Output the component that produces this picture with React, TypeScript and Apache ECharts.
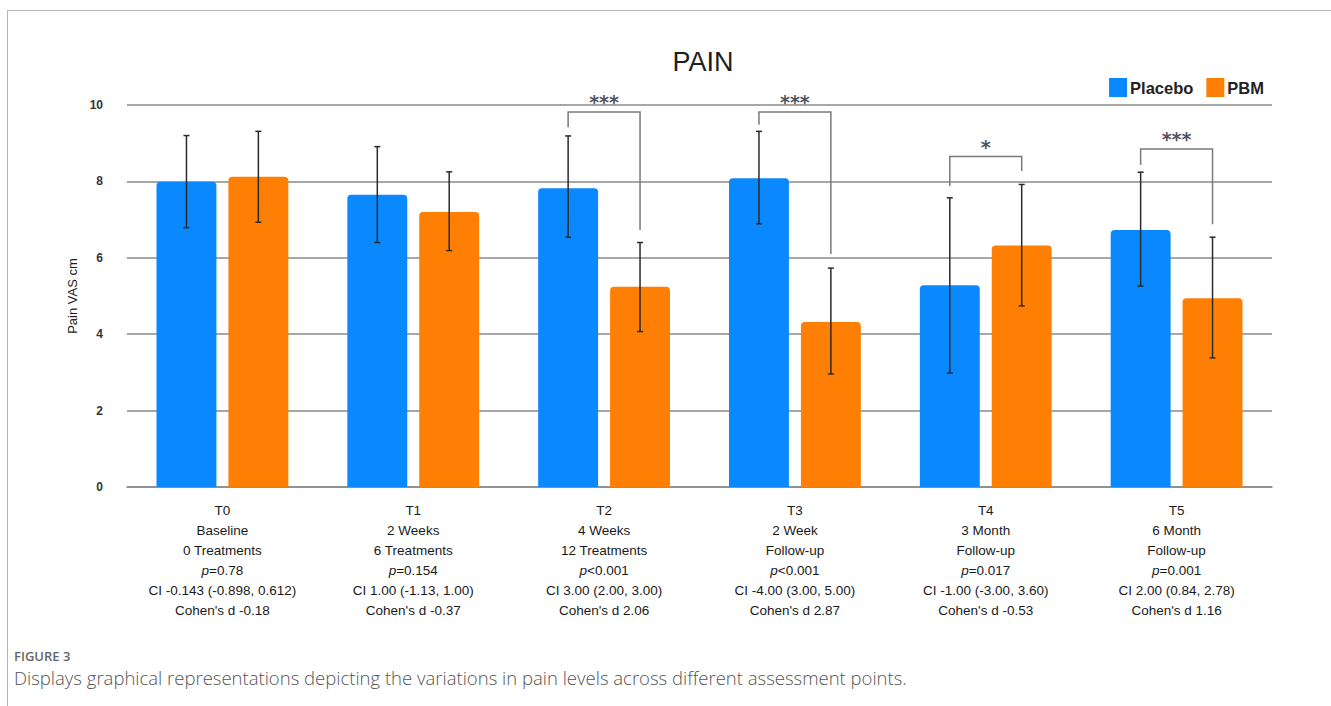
import React, { useEffect, useRef } from "react";
import * as echarts from "echarts";

// Assessment points
const timepoints = ["T0", "T1", "T2", "T3", "T4", "T5"];
const periods = ["Baseline", "2 Weeks", "4 Weeks", "2 Week", "3 Month", "6 Month"];
const treatments = ["0 Treatments", "6 Treatments", "12 Treatments", "Follow-up", "Follow-up", "Follow-up"];
const pValues = ["=0.78", "=0.154", "<0.001", "<0.001", "=0.017", "=0.001"];
const ciValues = [
  "CI -0.143 (-0.898, 0.612)",
  "CI 1.00 (-1.13, 1.00)",
  "CI 3.00 (2.00, 3.00)",
  "CI -4.00 (3.00, 5.00)",
  "CI -1.00 (-3.00, 3.60)",
  "CI 2.00 (0.84, 2.78)",
];
const cohensD = ["-0.18", "-0.37", "2.06", "2.87", "-0.53", "1.16"];

// Mean pain VAS (cm) with error-bar limits
const placebo = [7.99, 7.65, 7.82, 8.08, 5.28, 6.73];
const placeboLow = [6.79, 6.4, 6.54, 6.89, 2.98, 5.26];
const placeboHigh = [9.2, 8.91, 9.19, 9.31, 7.57, 8.24];
const pbm = [8.12, 7.2, 5.24, 4.32, 6.32, 4.94];
const pbmLow = [6.93, 6.19, 4.07, 2.96, 4.74, 3.38];
const pbmHigh = [9.31, 8.25, 6.4, 5.73, 7.92, 6.54];

// Significance brackets: [category, bracket top, left leg end, right leg end]
const brackets = [
  [2, 9.82, 9.42, 6.73],
  [3, 9.82, 9.48, 6.1],
  [4, 8.65, 7.88, 8.27],
  [5, 8.85, 8.43, 6.88],
];
const bracketStars = ["***", "***", "*", "***"];

const BLUE = "#0a89fe";
const ORANGE = "#ff7f05";
const BAR_WIDTH = 0.314; // share of category width
const BAR_GAP = 0.2; // share of bar width
const OFFSET = (BAR_WIDTH * (1 + BAR_GAP)) / 2;

function errorSeries(name: string, low: number[], high: number[], side: number) {
  return {
    type: "custom",
    name,
    z: 5,
    data: low.map((l, i) => [i, l, high[i]]),
    renderItem: (params: any, api: any) => {
      const bandW = api.size([1, 0])[0];
      const cx = api.coord([api.value(0), 0])[0] + side * OFFSET * bandW;
      const yl = api.coord([api.value(0), api.value(1)])[1];
      const yh = api.coord([api.value(0), api.value(2)])[1];
      const st = { stroke: "#2a2a2a", lineWidth: 1.5 };
      return {
        type: "group",
        children: [
          { type: "line", shape: { x1: cx, y1: yl, x2: cx, y2: yh }, style: st },
          { type: "line", shape: { x1: cx - 3, y1: yl, x2: cx + 3, y2: yl }, style: st },
          { type: "line", shape: { x1: cx - 3, y1: yh, x2: cx + 3, y2: yh }, style: st },
        ],
      };
    },
  };
}

const catLabels = timepoints.map(
  (t, i) =>
    `${t}\n${periods[i]}\n${treatments[i]}\n{i|p}${pValues[i]}\n${ciValues[i]}\nCohen's d ${cohensD[i]}`
);

export default function App() {
  const ref = useRef<HTMLDivElement>(null);

  useEffect(() => {
    if (!ref.current) return;
    const chart = echarts.init(ref.current, null, { renderer: "svg" });
    const font = "'Liberation Sans', Arial, Helvetica, sans-serif";
    const captionFont = "'Open Sans', sans-serif";
    chart.setOption({
      animation: false,
      textStyle: { fontFamily: font },
      title: {
        text: "PAIN",
        left: 698,
        textAlign: "center",
        top: 43,
        textStyle: { fontSize: 27, fontWeight: "normal", color: "#1e1e1e", fontFamily: font },
      },
      legend: {
        right: 62,
        top: 73,
        itemWidth: 18,
        itemHeight: 19,
        itemGap: 13,
        icon: "rect",
        data: ["Placebo", "PBM"],
        textStyle: { fontSize: 16.5, color: "#222", fontWeight: "bold", fontFamily: font, padding: [0, 0, 0, -2] },
      },
      grid: { left: 127, right: 59, top: 105, bottom: 219 },
      xAxis: {
        type: "category",
        data: catLabels,
        axisLine: { show: true, lineStyle: { color: "#8a8a8a", width: 1.5 } },
        axisTick: { show: false },
        axisLabel: {
          interval: 0,
          margin: 13,
          fontSize: 13.5,
          lineHeight: 20,
          color: "#1a1a1a",
          fontFamily: font,
          rich: { i: { fontStyle: "italic", fontSize: 13.5, lineHeight: 20, color: "#1a1a1a", fontFamily: font } },
        },
      },
      yAxis: {
        type: "value",
        min: 0,
        max: 10,
        interval: 2,
        name: "Pain VAS cm",
        nameLocation: "middle",
        nameGap: 46,
        nameRotate: 90,
        nameTextStyle: { fontSize: 13, color: "#222", fontFamily: font },
        axisLine: { show: false },
        axisTick: { show: false },
        axisLabel: { margin: 24, fontSize: 12, color: "#333", fontWeight: "bold", fontFamily: font },
        splitLine: { lineStyle: { color: "#8a8a8a", width: 1.5 } },
      },
      series: [
        {
          type: "bar",
          name: "Placebo",
          data: placebo,
          barWidth: `${BAR_WIDTH * 100}%`,
          barGap: `${BAR_GAP * 100}%`,
          itemStyle: { color: BLUE, borderRadius: [4, 4, 0, 0] },
        },
        {
          type: "bar",
          name: "PBM",
          data: pbm,
          barWidth: `${BAR_WIDTH * 100}%`,
          barGap: `${BAR_GAP * 100}%`,
          itemStyle: { color: ORANGE, borderRadius: [4, 4, 0, 0] },
        },
        errorSeries("placeboErr", placeboLow, placeboHigh, -1),
        errorSeries("pbmErr", pbmLow, pbmHigh, 1),
        {
          type: "custom",
          name: "brackets",
          z: 6,
          data: brackets,
          renderItem: (params: any, api: any) => {
            const bandW = api.size([1, 0])[0];
            const c = api.value(0);
            const cx = api.coord([c, 0])[0];
            const xl = cx - OFFSET * bandW;
            const xr = cx + OFFSET * bandW;
            const yt = api.coord([c, api.value(1)])[1];
            const yl = api.coord([c, api.value(2)])[1];
            const yr = api.coord([c, api.value(3)])[1];
            return {
              type: "group",
              children: [
                {
                  type: "polyline",
                  shape: { points: [[xl, yl], [xl, yt], [xr, yt], [xr, yr]] },
                  style: { stroke: "#7a7a7a", lineWidth: 1.5, fill: null },
                },
                {
                  type: "text",
                  style: {
                    text: bracketStars[params.dataIndex],
                    x: (xl + xr) / 2,
                    y: yt - 19,
                    align: "center",
                    verticalAlign: "top",
                    fontSize: 19,
                    fontWeight: "bold",
                    fill: "#50555f",
                    fontFamily: "'DejaVu Sans', sans-serif",
                  },
                },
              ],
            };
          },
        },
      ],
      graphic: [
        { type: "line", shape: { x1: 7, y1: 10.5, x2: 1331, y2: 10.5 }, style: { stroke: "#b5b5b5", lineWidth: 1 } },
        { type: "line", shape: { x1: 7.5, y1: 10, x2: 7.5, y2: 706 }, style: { stroke: "#b5b5b5", lineWidth: 1 } },
        {
          type: "text",
          left: 14,
          top: 649,
          style: { text: "FIGURE 3", fontSize: 13, fontWeight: 600, fill: "#666", fontFamily: captionFont },
        },
        {
          type: "text",
          left: 14,
          top: 668,
          style: {
            text: "Displays graphical representations depicting the variations in pain levels across different assessment points.",
            fontSize: 18.5,
            fontWeight: 300,
            fill: "#555",
            fontFamily: captionFont,
          },
        },
      ],
    });
    return () => chart.dispose();
  }, []);

  return (
    <div
      ref={ref}
      style={{ position: "absolute", left: 0, top: 0, width: 1331, height: 706, background: "#fff" }}
    />
  );
}
